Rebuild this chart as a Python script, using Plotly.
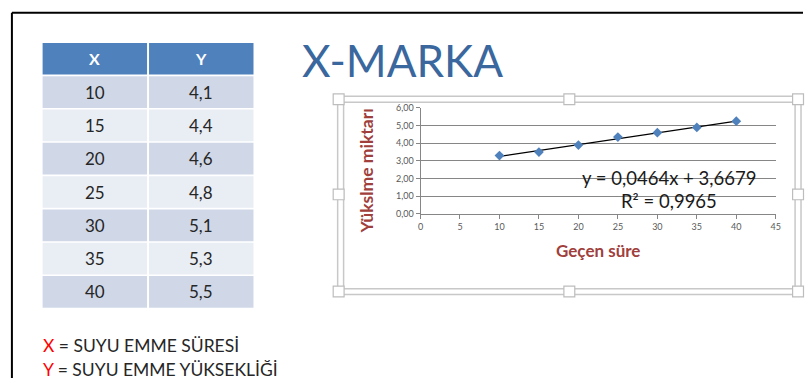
import numpy as np
import plotly.graph_objects as go

# Table data (X = suction time, Y = suction height)
table_x = [10, 15, 20, 25, 30, 35, 40]
table_y = ["4,1", "4,4", "4,6", "4,8", "5,1", "5,3", "5,5"]
table_header = ["X", "Y"]

# Points shown in the embedded chart
chart_x = [10, 15, 20, 25, 30, 35, 40]
chart_y = [3.30, 3.50, 3.90, 4.35, 4.60, 4.90, 5.25]

equation_text = "y = 0,0464x + 3,6679"
r2_text = "R² = 0,9965"

W, H = 808, 383
FONT = "Lato"


def px(x):
    return x / W


def py(y):
    return 1 - y / H


fig = go.Figure()

shapes = []
annotations = []

# ---- data table drawn as filled cells ----
col_edges = [(40, 145.5), (147.5, 253)]
header_top, header_bot = 38, 70.5
row_top0, row_pitch, row_h = 72.3, 34.3, 32.6

for (cx0, cx1), label in zip(col_edges, table_header):
    shapes.append(dict(type="rect", xref="paper", yref="paper",
                       x0=px(cx0), x1=px(cx1), y0=py(header_bot), y1=py(header_top),
                       fillcolor="#4F81BD", line=dict(width=0), layer="below"))
    annotations.append(dict(x=px((cx0 + cx1) / 2), y=py((header_top + header_bot) / 2),
                            xref="paper", yref="paper", xanchor="center", yanchor="middle",
                            text=f"<b>{label}</b>", showarrow=False,
                            font=dict(family=FONT, size=16, color="white")))

for i, (xv, yv) in enumerate(zip(table_x, table_y)):
    top = row_top0 + i * row_pitch
    fill = "#D0D8E8" if i % 2 == 0 else "#E9EDF4"
    for (cx0, cx1), txt in zip(col_edges, [str(xv), yv]):
        shapes.append(dict(type="rect", xref="paper", yref="paper",
                           x0=px(cx0), x1=px(cx1), y0=py(top + row_h), y1=py(top),
                           fillcolor=fill, line=dict(width=0), layer="below"))
        annotations.append(dict(x=px((cx0 + cx1) / 2), y=py(top + row_h / 2),
                                xref="paper", yref="paper", xanchor="center",
                                yanchor="middle", text=txt, showarrow=False,
                                font=dict(family=FONT, size=17, color="#262626")))

# ---- scatter chart with linear trendline ----
slope, intercept = np.polyfit(chart_x, chart_y, 1)
trend_x = np.array([min(chart_x), max(chart_x)])
trend_y = slope * trend_x + intercept

fig.add_trace(go.Scatter(
    x=trend_x, y=trend_y, mode="lines",
    line=dict(color="black", width=1.2), hoverinfo="skip",
))
fig.add_trace(go.Scatter(
    x=chart_x, y=chart_y, mode="markers",
    marker=dict(symbol="diamond", size=7.5, color="#4F81BD",
                line=dict(width=0)),
))

fig.update_xaxes(
    domain=[px(421.7), px(780.5)], range=[0, 45], dtick=5,
    showgrid=False, zeroline=False, showline=True, linecolor="#868686",
    linewidth=1, ticks="outside", ticklen=4, tickcolor="#868686",
    tickfont=dict(family=FONT, size=9, color="#595959"),
    anchor="y",
)
fig.update_yaxes(
    domain=[py(214), py(105)], range=[0, 6], dtick=1, tickformat=".2f",
    showgrid=True, gridcolor="#868686", gridwidth=1, zeroline=False,
    showline=True, linecolor="#868686", linewidth=1,
    ticks="outside", ticklen=4, tickcolor="#868686",
    tickfont=dict(family=FONT, size=9, color="#595959"),
    anchor="x",
)

annotations += [
    dict(x=px(300), y=py(56), xref="paper", yref="paper", xanchor="left",
         yanchor="middle", text="X-MARKA", showarrow=False,
         font=dict(family=FONT, size=44, color="#3A679E")),
    dict(x=px(367), y=py(170), xref="paper", yref="paper", xanchor="center",
         yanchor="middle", textangle=-90,
         text="<b>Yükslme miktarı</b>", showarrow=False,
         font=dict(family=FONT, size=17.5, color="#A0403C")),
    dict(x=px(601), y=py(252), xref="paper", yref="paper", xanchor="center",
         yanchor="middle", text="<b>Geçen süre</b>", showarrow=False,
         font=dict(family=FONT, size=17, color="#A0403C")),
    dict(x=px(673), y=py(177), xref="paper", yref="paper", xanchor="center",
         yanchor="middle", text=equation_text, showarrow=False,
         font=dict(family=FONT, size=18.5, color="#1A1A1A")),
    dict(x=px(673), y=py(201), xref="paper", yref="paper", xanchor="center",
         yanchor="middle", text=r2_text, showarrow=False,
         font=dict(family=FONT, size=18.5, color="#1A1A1A")),
    dict(x=px(38), y=py(350), xref="paper", yref="paper", xanchor="left",
         yanchor="middle",
         text="<span style='color:#FF0000'>X</span> = SUYU EMME SÜRESİ",
         showarrow=False, font=dict(family=FONT, size=17.5, color="#262626")),
    dict(x=px(38), y=py(374), xref="paper", yref="paper", xanchor="left",
         yanchor="middle",
         text="<span style='color:#FF0000'>Y</span> = SUYU EMME YÜKSEKLİĞİ",
         showarrow=False, font=dict(family=FONT, size=17.5, color="#262626")),
]

shapes += [
    # slide border
    dict(type="line", xref="paper", yref="paper", x0=px(9), x1=px(W),
         y0=py(7), y1=py(7), line=dict(color="black", width=2)),
    dict(type="line", xref="paper", yref="paper", x0=px(9), x1=px(9),
         y0=py(7), y1=py(H), line=dict(color="black", width=2)),
    # chart selection frame (double line)
    dict(type="rect", xref="paper", yref="paper", x0=px(338), x1=px(806),
         y0=py(297), y1=py(93), line=dict(color="#C8C8C8", width=1.5)),
    dict(type="rect", xref="paper", yref="paper", x0=px(344), x1=px(800),
         y0=py(291), y1=py(99), line=dict(color="#C8C8C8", width=1.5)),
]

# frame handles at corners and midpoints
handles = [(339, 96), (572, 96), (803, 96),
           (339, 194), (803, 194),
           (339, 294), (572, 294), (803, 294)]
for hx, hy in handles:
    shapes.append(dict(type="rect", xref="paper", yref="paper",
                       x0=px(hx - 5.5), x1=px(hx + 5.5),
                       y0=py(hy + 5.5), y1=py(hy - 5.5),
                       fillcolor="white",
                       line=dict(color="#BDBDBD", width=1.2)))

fig.update_layout(
    width=W, height=H, margin=dict(l=0, r=0, t=0, b=0),
    paper_bgcolor="white", plot_bgcolor="white",
    showlegend=False, separators=", ",
    annotations=annotations, shapes=shapes,
)

fig.write_html("out.html")
